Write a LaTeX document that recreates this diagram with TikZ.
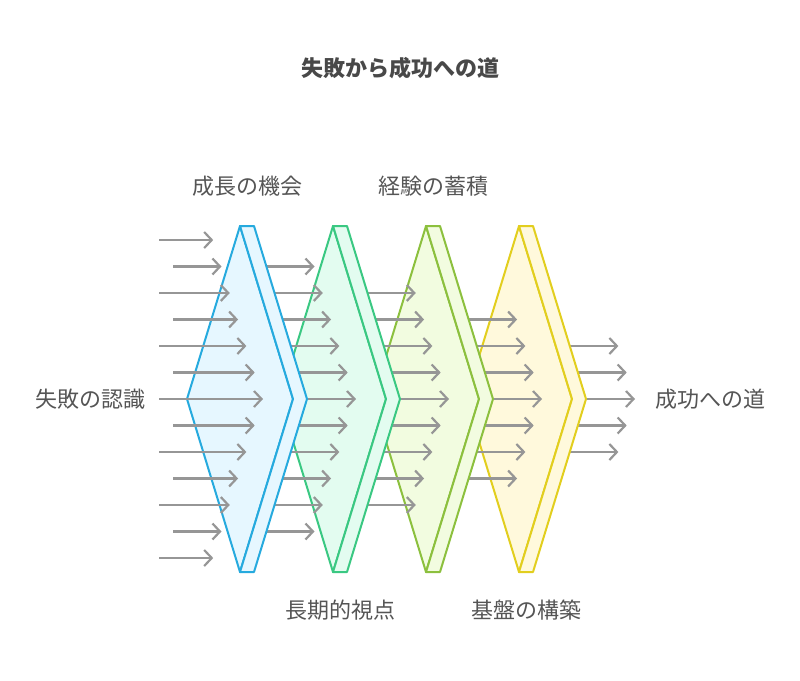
\documentclass[tikz,border=0pt]{standalone}
\usepackage{xcolor}
\usepackage{fontspec}
\setmainfont{Noto Sans CJK JP}
\usepackage{tikz}
\usetikzlibrary{arrows.meta, positioning}

\definecolor{blueline}{RGB}{38,170,222}
\definecolor{bluefill}{RGB}{230,247,255}
\definecolor{greenline}{RGB}{58,200,130}
\definecolor{greenfill}{RGB}{227,252,240}
\definecolor{limeline}{RGB}{140,192,62}
\definecolor{limefill}{RGB}{242,252,224}
\definecolor{yellowline}{RGB}{226,206,30}
\definecolor{yellowfill}{RGB}{255,249,220}
\definecolor{arrowgray}{RGB}{150,150,150}
\definecolor{textgray}{RGB}{85,85,85}

% one fan of arrows: #1 = step to the right, #2 = rows above/below the middle
\newcommand{\arrowfan}[2]{%
  \foreach \k in {-#2,...,#2}{
    \pgfmathsetmacro{\ya}{399+26.5*\k}
    \pgfmathsetmacro{\xa}{(mod(abs(\k),2)==0 ? 159 : 173)+93*#1}
    \pgfmathsetmacro{\xb}{263-8.3*abs(\k)+93*#1}
    \draw[flow] (\xa,\ya) -- (\xb,\ya);
  }}

% one layer: #1 = x of top tip, #2 = line colour, #3 = fill colour
\newcommand{\wedgelayer}[3]{%
  \draw[layer, draw=#2, fill=#3] (#1,226) -- ++(53,173) -- ++(-53,173) -- ++(-53,-173) -- cycle;
  \draw[layer, draw=#2, fill=#3] (#1,226) -- ++(14,0) -- ++(53,173) -- ++(-53,173) -- ++(-14,0) -- ++(53,-173) -- cycle;
}

\begin{document}
\begin{tikzpicture}[
            x=1pt, y=-1pt,
            flow/.style={draw=arrowgray, line width=2.2pt, -{Straight Barb[length=7.5pt, width=16pt]}},
            layer/.style={line width=2pt, line join=round},
            lbl/.style={text=textgray, font=\fontsize{22}{26}\selectfont, inner sep=0pt},
            ttl/.style={text=textgray!85!black, font=\fontsize{22}{26}\selectfont\bfseries, inner sep=0pt}
        ]
            \useasboundingbox (0,0) rectangle (800,680);

            % drawn from right to left so each layer hides the next fan
            \arrowfan{4}{2}
            \wedgelayer{519}{yellowline}{yellowfill}
            \arrowfan{3}{3}
            \wedgelayer{426}{limeline}{limefill}
            \arrowfan{2}{4}
            \wedgelayer{333}{greenline}{greenfill}
            \arrowfan{1}{5}
            \wedgelayer{240}{blueline}{bluefill}
            \arrowfan{0}{6}

            \node[ttl] (title) at (400,68) {失敗から成功への道};
            \node[lbl] (start) at (90,399) {失敗の認識};
            \node[lbl] (goal) at (710,399) {成功への道};
            \node[lbl] (chance) at (247,186) {成長の機会};
            \node[lbl] (stock) at (433,186) {経験の蓄積};
            \node[lbl] (view) at (340,610) {長期的視点};
            \node[lbl] (base) at (526,610) {基盤の構築};
        \end{tikzpicture}
\end{document}
